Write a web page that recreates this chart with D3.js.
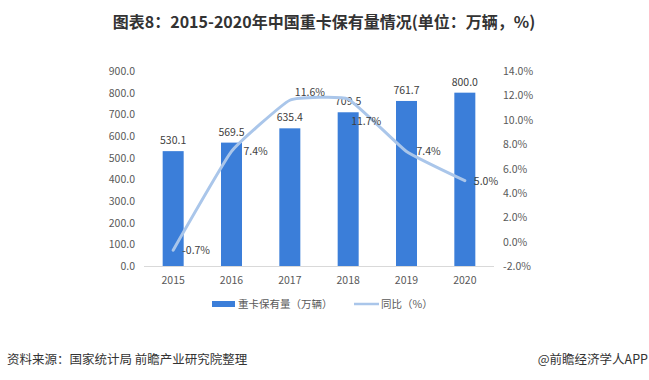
<!DOCTYPE html>
<html><head><meta charset="utf-8">
<script src="https://cdn.jsdelivr.net/npm/d3@7"></script>
<style>body{margin:0;background:#fff;}svg{display:block;font-family:"Microsoft YaHei","Noto Sans CJK SC",sans-serif;}</style>
</head><body><svg id="c" width="649" height="380"></svg>
<script>
const years = ["2015","2016","2017","2018","2019","2020"];
const stock = [530.1, 569.5, 635.4, 709.5, 761.7, 800.0];
const yoy = [-0.7, 7.4, 11.6, 11.7, 7.4, 5.0];
const leftTicks = [0,100,200,300,400,500,600,700,800,900];
const rightTicks = [-2,0,2,4,6,8,10,12,14];
const title = "图表8：2015-2020年中国重卡保有量情况(单位：万辆，%)";
const source = "资料来源：国家统计局 前瞻产业研究院整理";
const brand = "@前瞻经济学人APP";
const legendNames = ["重卡保有量（万辆）","同比（%）"];

const svg = d3.select("#c");
const x = d3.scaleBand().domain(years).range([144,494]);
const yL = d3.scaleLinear().domain([0,900]).range([266,71]);
const yR = d3.scaleLinear().domain([-2,14]).range([266,71]);
const barColor = "#3b7ed9", lineColor = "#aac6ea", txt = "#595959";

svg.append("text").attr("x",324).attr("y",27.5).attr("text-anchor","middle")
  .attr("font-size",16).attr("font-weight","bold").attr("fill","#333").text(title);

svg.append("g").selectAll("text").data(leftTicks).join("text")
  .attr("x",135).attr("y",d=>yL(d)+4).attr("text-anchor","end")
  .attr("font-size",10.5).attr("fill",txt).text(d=>d.toFixed(1));
svg.append("g").selectAll("text").data(rightTicks).join("text")
  .attr("x",503).attr("y",d=>yR(d)+4).attr("text-anchor","start")
  .attr("font-size",10.5).attr("fill",txt).text(d=>d.toFixed(1)+"%");

svg.append("line").attr("x1",144).attr("x2",494).attr("y1",yL(0)+0.5).attr("y2",yL(0)+0.5)
  .attr("stroke","#d9d9d9").attr("stroke-width",1);

svg.append("g").selectAll("text").data(years).join("text")
  .attr("x",d=>x(d)+x.bandwidth()/2).attr("y",284).attr("text-anchor","middle")
  .attr("font-size",10.5).attr("fill",txt).text(d=>d);

const bw = 21;
svg.append("g").selectAll("rect").data(stock).join("rect")
  .attr("x",(d,i)=>x(years[i])+x.bandwidth()/2-bw/2).attr("width",bw)
  .attr("y",d=>yL(d)).attr("height",d=>yL(0)-yL(d)).attr("fill",barColor);

svg.append("g").selectAll("text").data(stock).join("text")
  .attr("x",(d,i)=>x(years[i])+x.bandwidth()/2).attr("y",d=>yL(d)-7)
  .attr("text-anchor","middle").attr("font-size",10.5).attr("fill","#404040").text(d=>d.toFixed(1));

const line = d3.line().x((d,i)=>x(years[i])+x.bandwidth()/2).y(d=>yR(d)).curve(d3.curveCardinal.tension(0.65));
svg.append("path").datum(yoy).attr("d",line).attr("fill","none")
  .attr("stroke",lineColor).attr("stroke-width",3).attr("stroke-linecap","round");

const lblOff = [[9,4],[12,4],[5,-4],[3,26],[10,4],[9,4]];
svg.append("g").selectAll("text").data(yoy).join("text")
  .attr("x",(d,i)=>x(years[i])+x.bandwidth()/2+lblOff[i][0])
  .attr("y",(d,i)=>yR(d)+lblOff[i][1])
  .attr("font-size",10.5).attr("fill","#404040").text(d=>d.toFixed(1)+"%");

svg.append("rect").attr("x",212).attr("y",301).attr("width",23).attr("height",6).attr("fill",barColor);
svg.append("text").attr("x",238).attr("y",308).attr("font-size",10.5).attr("fill",txt).text(legendNames[0]);
svg.append("line").attr("x1",354).attr("x2",379).attr("y1",304).attr("y2",304).attr("stroke",lineColor).attr("stroke-width",2.5);
svg.append("text").attr("x",381).attr("y",308).attr("font-size",10.5).attr("fill",txt).text(legendNames[1]);

svg.append("text").attr("x",7).attr("y",364).attr("font-size",12.5).attr("fill","#333").text(source);
svg.append("text").attr("x",648).attr("y",364).attr("text-anchor","end").attr("font-size",12.5).attr("fill","#333").text(brand);
</script></body></html>
